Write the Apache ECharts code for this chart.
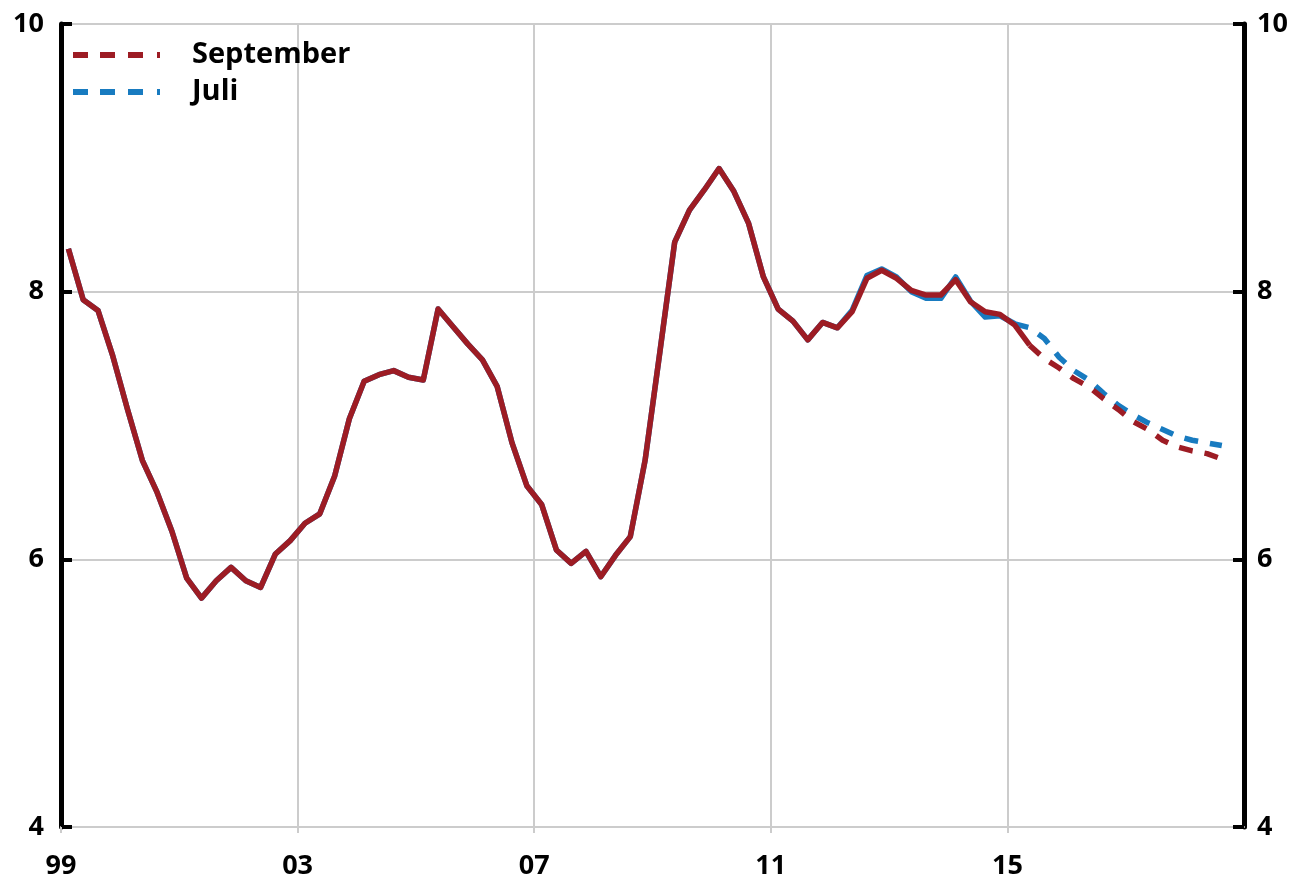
<!DOCTYPE html>
<html>
<head>
<meta charset="utf-8">
<title>September / Juli</title>
<script src="https://cdn.jsdelivr.net/npm/echarts@6/dist/echarts.min.js"></script>
<style>
  html, body { margin: 0; padding: 0; background: #ffffff; }
  #chart { width: 1294px; height: 880px; }
</style>
</head>
<body>
<div id="chart"></div>
<script>
// Quarterly observations, 1999Q1 .. 2018Q3
const firstYear = 1999;
const quarterCount = 79;

// September vintage
const septemberValues = [
  8.32, 7.94, 7.86, 7.52, 7.12, 6.74, 6.50, 6.21, 5.86, 5.71,
  5.84, 5.94, 5.84, 5.79, 6.04, 6.14, 6.27, 6.34, 6.62, 7.05,
  7.33, 7.38, 7.41, 7.36, 7.34, 7.87, 7.74, 7.61, 7.49, 7.29,
  6.87, 6.55, 6.41, 6.07, 5.97, 6.06, 5.87, 6.03, 6.17, 6.74,
  7.55, 8.37, 8.61, 8.76, 8.92, 8.75, 8.51, 8.11, 7.87, 7.78,
  7.64, 7.77, 7.73, 7.85, 8.10, 8.16, 8.10, 8.01, 7.975, 7.975,
  8.09, 7.925, 7.85, 7.83, 7.75, 7.60, 7.50, 7.43, 7.35, 7.29,
  7.20, 7.12, 7.03, 6.97, 6.89, 6.84, 6.81, 6.79, 6.75
];

// Juli vintage
const juliValues = [
  8.32, 7.94, 7.86, 7.52, 7.12, 6.74, 6.50, 6.21, 5.86, 5.71,
  5.84, 5.94, 5.84, 5.79, 6.04, 6.14, 6.27, 6.34, 6.62, 7.05,
  7.33, 7.38, 7.41, 7.36, 7.34, 7.87, 7.74, 7.61, 7.49, 7.29,
  6.87, 6.55, 6.41, 6.07, 5.97, 6.06, 5.87, 6.03, 6.17, 6.74,
  7.55, 8.37, 8.61, 8.76, 8.92, 8.75, 8.51, 8.11, 7.87, 7.78,
  7.64, 7.77, 7.73, 7.86, 8.12, 8.17, 8.11, 8.00, 7.95, 7.95,
  8.11, 7.93, 7.81, 7.82, 7.76, 7.73, 7.65, 7.51, 7.41, 7.34,
  7.24, 7.15, 7.08, 7.02, 6.97, 6.92, 6.89, 6.87, 6.85
];

// Index of the first projected quarter for each vintage
const septemberForecastStart = 65;
const juliForecastStart = 64;

// Axis ticks
const xTickYears = [1999, 2003, 2007, 2011, 2015];
const xTickLabels = ['99', '03', '07', '11', '15'];
const yTicks = [4, 6, 8, 10];

const RED = '#9d1c24';
const BLUE = '#187bc0';
const FONT = 'Open Sans';

// Dashed key drawn as a row of short bars
const DASH_ICON = 'path://M0,0h15v6h-15z M27,0h15v6h-15z M55,0h15v6h-15z M84,0h3v6h-3z';

// Quarter i plotted at the middle of its quarter on a decimal-year scale
function quarterPos(i) { return firstYear + i / 4 + 0.125; }

function pairs(values, from, to) {
  const out = [];
  for (let i = from; i <= to; i++) out.push([quarterPos(i), values[i]]);
  return out;
}

const last = quarterCount - 1;
const dash = [14, 12];

function lineSeries(name, color, data, dashed, z) {
  return {
    name: name,
    type: 'line',
    data: data,
    showSymbol: false,
    symbol: 'none',
    smooth: false,
    z: z,
    lineStyle: { color: color, width: 5.5, type: dashed ? dash : 'solid', cap: 'butt', join: 'round' },
    itemStyle: { color: color },
    emphasis: { disabled: true },
    animation: false
  };
}

const yAxisCommon = {
  type: 'value',
  min: yTicks[0],
  max: yTicks[yTicks.length - 1],
  interval: 2,
  axisLine: { show: true, lineStyle: { color: '#000', width: 5 } },
  axisTick: { show: true, inside: true, length: 11, lineStyle: { color: '#000', width: 4 } },
  splitLine: { show: true, lineStyle: { color: '#cccccc', width: 2 } },
  axisLabel: {
    color: '#000',
    fontFamily: FONT,
    fontWeight: 'bold',
    fontSize: 27
  }
};

const chart = echarts.init(document.getElementById('chart'), null, { renderer: 'canvas' });

chart.setOption({
  backgroundColor: '#ffffff',
  animation: false,
  grid: { left: 61, right: 50, top: 24, bottom: 53, containLabel: false },
  legend: {
    data: [
      { name: 'September', icon: DASH_ICON, itemStyle: { color: RED } },
      { name: 'Juli', icon: DASH_ICON, itemStyle: { color: BLUE } }
    ],
    orient: 'vertical',
    left: 68,
    top: 35,
    itemWidth: 87,
    itemHeight: 6,
    itemGap: 7,
    selectedMode: false,
    textStyle: {
      color: '#000',
      fontFamily: FONT,
      fontWeight: 'bold',
      fontSize: 29,
      lineHeight: 30,
      padding: [0, 0, 0, 27]
    }
  },
  xAxis: {
    type: 'value',
    min: firstYear,
    max: 2019,
    interval: 4,
    axisLine: { show: true, onZero: false, lineStyle: { color: '#cccccc', width: 2 } },
    axisTick: { show: true, length: 6, lineStyle: { color: '#cccccc', width: 2 } },
    splitLine: { show: true, lineStyle: { color: '#cccccc', width: 2 } },
    axisLabel: {
      color: '#000',
      fontFamily: FONT,
      fontWeight: 'bold',
      fontSize: 27,
      margin: 26,
      showMaxLabel: false,
      formatter: function (v) {
        const k = xTickYears.indexOf(Math.round(v));
        return k >= 0 ? xTickLabels[k] : '';
      }
    }
  },
  yAxis: [
    Object.assign({}, yAxisCommon, {
      position: 'left',
      axisLabel: Object.assign({}, yAxisCommon.axisLabel, { margin: 17 })
    }),
    Object.assign({}, yAxisCommon, {
      position: 'right',
      splitLine: { show: false },
      axisLabel: Object.assign({}, yAxisCommon.axisLabel, { margin: 13 })
    })
  ],
  series: [
    lineSeries('Juli historie', BLUE, pairs(juliValues, 0, juliForecastStart), false, 2),
    lineSeries('Juli', BLUE, pairs(juliValues, juliForecastStart, last), true, 2),
    lineSeries('September historie', RED, pairs(septemberValues, 0, septemberForecastStart), false, 3),
    lineSeries('September', RED, pairs(septemberValues, septemberForecastStart, last), true, 3)
  ]
});
</script>
</body>
</html>
